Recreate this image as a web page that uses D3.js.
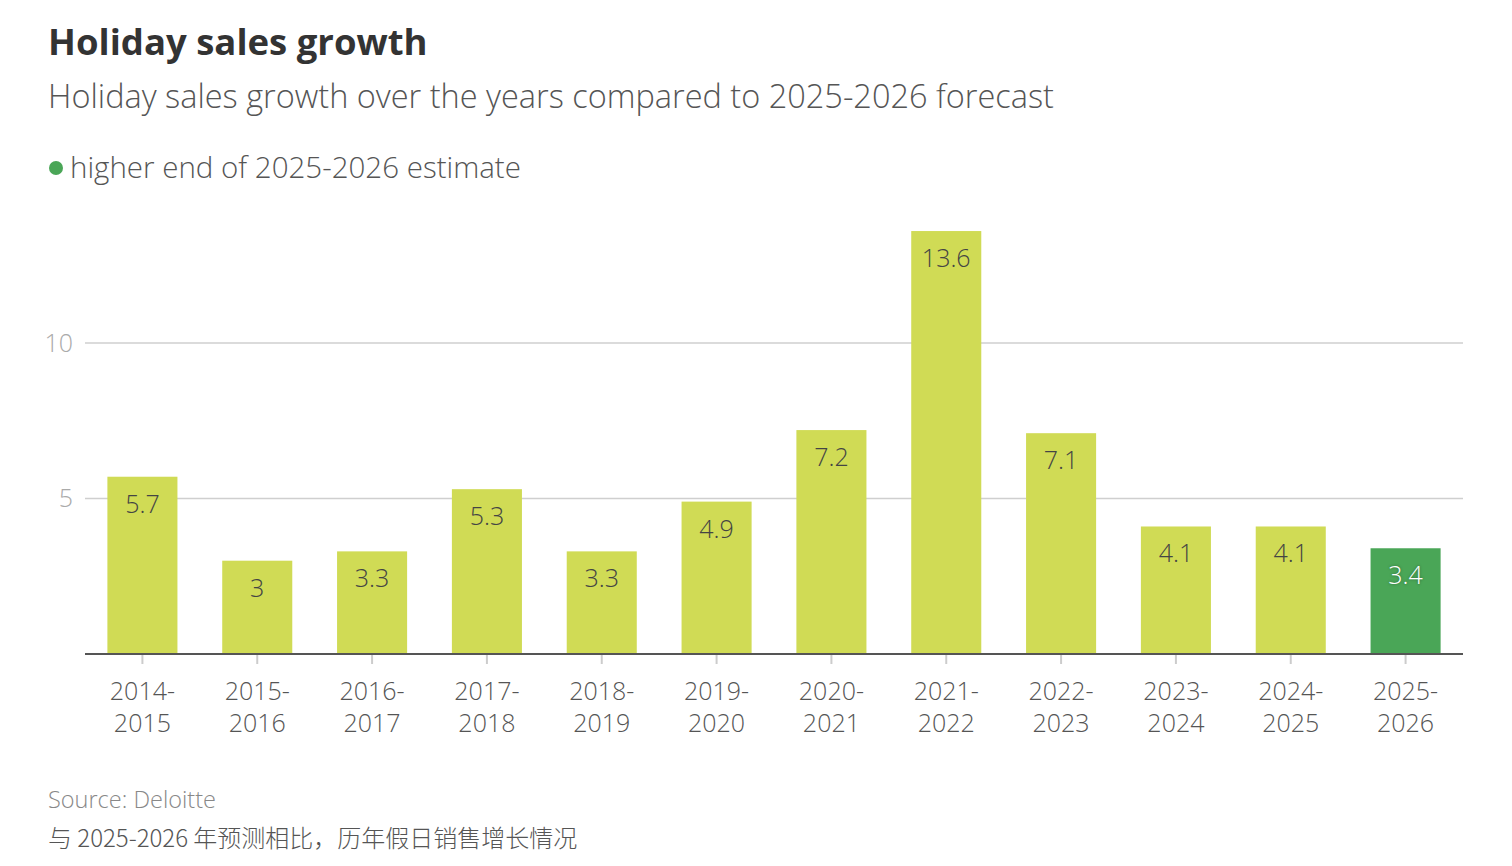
<!DOCTYPE html>
<meta charset="utf-8">
<style>
  body { margin: 0; background: #fff; }
  svg text { font-family: "Open Sans", "Noto Sans", sans-serif; }
  .grid line { stroke: #cfcfcf; stroke-width: 1.5; }
  .ylab { fill: #aaa; font-size: 25px; font-weight: 300; }
  .xlab { fill: #555; font-size: 25px; font-weight: 300; }
  .val { font-size: 25px; font-weight: 300; }
</style>
<body>
<script src="https://d3js.org/d3.v7.min.js"></script>
<script>
var periods = ["2014-2015","2015-2016","2016-2017","2017-2018","2018-2019","2019-2020",
               "2020-2021","2021-2022","2022-2023","2023-2024","2024-2025","2025-2026"];
var growth = [5.7, 3, 3.3, 5.3, 3.3, 4.9, 7.2, 13.6, 7.1, 4.1, 4.1, 3.4];
var yTicks = [5, 10];

var width = 1512, height = 866;
var left = 85, right = 1463, base = 654;

var svg = d3.select("body").append("svg")
    .attr("width", width)
    .attr("height", height);

// header
svg.append("text").attr("x", 48).attr("y", 55)
    .style("font-size", "36.5px").style("font-weight", 700).style("fill", "#333")
    .text("Holiday sales growth");
svg.append("text").attr("x", 48).attr("y", 108)
    .style("font-size", "32.5px").style("font-weight", 300).style("fill", "#555")
    .text("Holiday sales growth over the years compared to 2025-2026 forecast");
svg.append("circle").attr("cx", 56).attr("cy", 168).attr("r", 7).style("fill", "#4aa657");
svg.append("text").attr("x", 70).attr("y", 178)
    .style("font-size", "29.5px").style("font-weight", 300).style("fill", "#555")
    .text("higher end of 2025-2026 estimate");

var x = d3.scaleBand()
    .domain(periods)
    .range([left, right])
    .paddingInner(0.39)
    .paddingOuter(0.195);

var y = d3.scaleLinear()
    .domain([0, 10])
    .range([base, base - 311]);

// grid
var grid = svg.append("g").attr("class", "grid");
grid.selectAll("line").data(yTicks).enter().append("line")
    .attr("x1", left).attr("x2", right)
    .attr("y1", function(d) { return y(d); })
    .attr("y2", function(d) { return y(d); });
svg.append("g").selectAll("text").data(yTicks).enter().append("text")
    .attr("class", "ylab")
    .attr("x", 73).attr("y", function(d) { return y(d); })
    .attr("dy", "0.35em")
    .attr("text-anchor", "end")
    .text(function(d) { return d; });

// bars
var last = periods.length - 1;
svg.append("g").selectAll("rect").data(growth).enter().append("rect")
    .attr("x", function(d, i) { return x(periods[i]); })
    .attr("y", function(d) { return y(d); })
    .attr("width", x.bandwidth())
    .attr("height", function(d) { return base - y(d); })
    .style("fill", function(d, i) { return i === last ? "#4aa657" : "#d0db55"; });

// value labels
svg.append("g").selectAll("text").data(growth).enter().append("text")
    .attr("class", "val")
    .attr("x", function(d, i) { return x(periods[i]) + x.bandwidth() / 2; })
    .attr("y", function(d) { return y(d) + 36; })
    .attr("text-anchor", "middle")
    .style("fill", function(d, i) { return i === last ? "#fff" : "#444"; })
    .style("text-shadow", function(d, i) { return i === last ? "0 0 3px rgba(0,0,0,0.4)" : null; })
    .text(function(d) { return d; });

// x axis
var xAxis = svg.append("g").attr("transform", "translate(0," + base + ")")
    .call(d3.axisBottom(x).tickSize(10).tickFormat(""));
xAxis.select(".domain").remove();
xAxis.selectAll(".tick line").style("stroke", "#ccc").style("stroke-width", 2);
svg.append("line").attr("x1", left).attr("x2", right)
    .attr("y1", base).attr("y2", base)
    .style("stroke", "#555").style("stroke-width", 2);

var xl = svg.append("g").selectAll("text").data(periods).enter().append("text")
    .attr("class", "xlab")
    .attr("text-anchor", "middle")
    .attr("x", function(d) { return x(d) + x.bandwidth() / 2; })
    .attr("y", 700);
xl.append("tspan")
    .attr("x", function(d) { return x(d) + x.bandwidth() / 2; })
    .text(function(d) { return d.split("-")[0] + "-"; });
xl.append("tspan")
    .attr("x", function(d) { return x(d) + x.bandwidth() / 2; })
    .attr("dy", 32)
    .text(function(d) { return d.split("-")[1]; });

// footer
svg.append("text").attr("x", 48).attr("y", 808)
    .style("font-size", "23.5px").style("font-weight", 300).style("fill", "#888")
    .text("Source: Deloitte");
svg.append("text").attr("x", 48).attr("y", 847)
    .style("font-size", "24px").style("fill", "#555")
    .style("font-family", "'Noto Sans CJK SC', 'Open Sans', sans-serif")
    .style("font-weight", 300)
    .text("与 2025-2026 年预测相比，历年假日销售增长情况");
</script>
</body>
